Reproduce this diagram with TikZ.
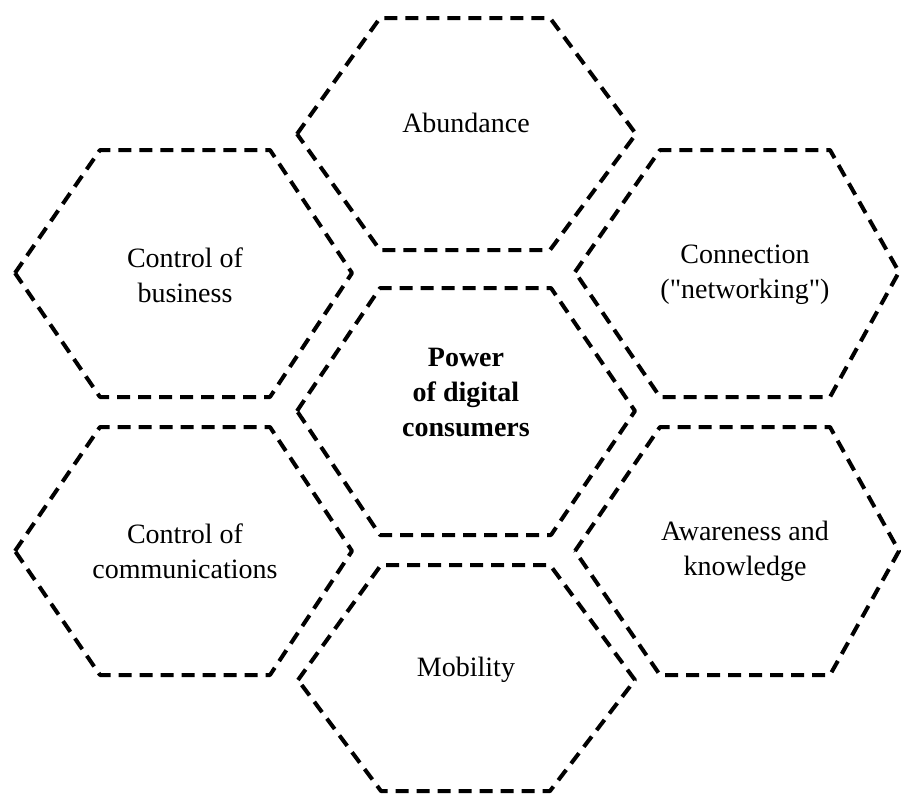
\documentclass[tikz,border=0pt]{standalone}
\usepackage{fontspec}
\setmainfont{Liberation Serif}
\newcommand{\strq}{\XeTeXglyph\XeTeXcharglyph"22\relax}
\tikzset{
  hexline/.style={black, line width=2pt, dash pattern=on 6.5pt off 4pt, line join=round},
  hexlabel/.style={align=center, font=\fontsize{14}{17.5}\selectfont}
}
\begin{document}
\begin{tikzpicture}[x=0.5pt, y=-0.5pt] %Power of digital consumers
            \useasboundingbox (0,0) rectangle (901,794);

            % xl/xa/xb/xr , ytop/ymid/ybot
            \foreach \xl/\xa/\xb/\xr/\yt/\ym/\yb in {
                297/380/550/636/18/134/250,
                297/380/551/635/288/411/535,
                298/381/550/635/565/680/791,
                15/100/270/352/150/273/397,
                15/100/270/352/427/551/675,
                575/660/830/899/150/272/397,
                575/660/830/899/427/551/675}
            {
                \draw[hexline] (\xl,\ym) -- (\xa,\yt) -- (\xb,\yt) -- (\xr,\ym) -- (\xb,\yb) -- (\xa,\yb) -- cycle;
            }

            \node[hexlabel] (abund) at (466,123) {Abundance};
            \node[hexlabel, font=\fontsize{14}{17.5}\selectfont\bfseries] (power) at (466,392) {Power\\of digital\\consumers};
            \node[hexlabel] (mobil) at (466,670) {Mobility};

            \node[hexlabel] (ctrlbus) at (185,275) {Control of\\business};
            \node[hexlabel] (ctrlcom) at (185,551) {Control of\\communications};

            \node[hexlabel] (conn) at (745,275) {Connection\\(\strq networking\strq)};
            \node[hexlabel] (aware) at (745,551) {Awareness and\\knowledge};
        \end{tikzpicture}
\end{document}
